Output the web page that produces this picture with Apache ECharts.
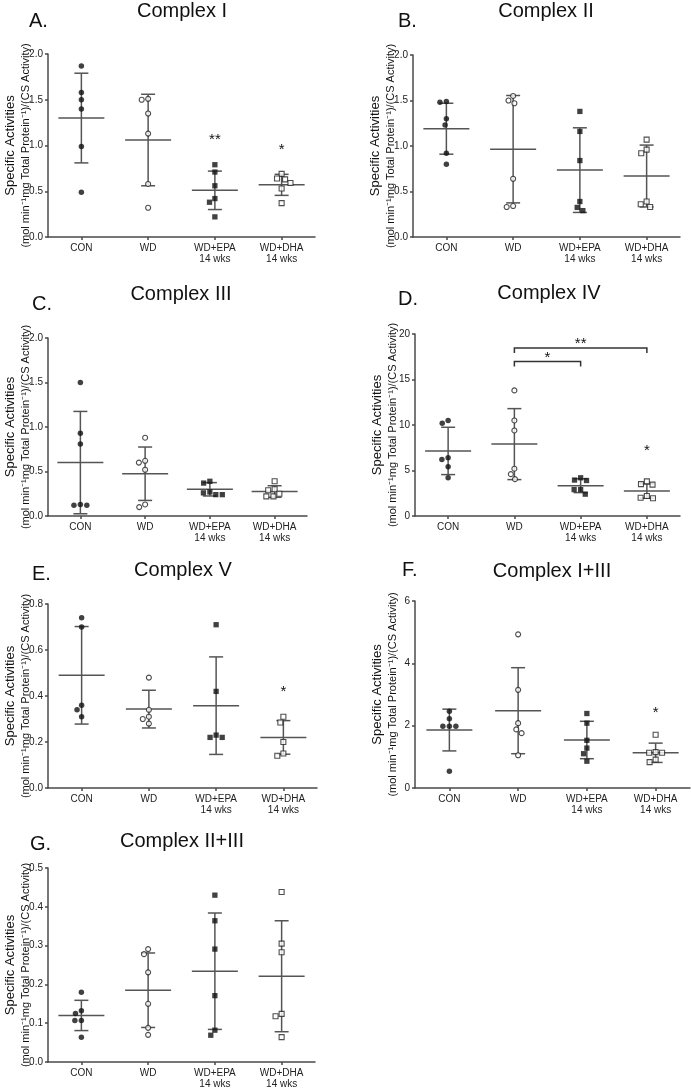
<!DOCTYPE html>
<html><head><meta charset="utf-8">
<script src="https://cdn.jsdelivr.net/npm/echarts@6/dist/echarts.min.js"></script>
<style>html,body{margin:0;padding:0;background:#fff}#c{width:691px;height:1090px}</style>
</head><body><div id="c"></div>
<script>
// ---------- DATA ----------
const categories = ['CON', 'WD', 'WD+EPA\n14 wks', 'WD+DHA\n14 wks'];

// Panel A: Complex I
const A_ticks = ['0.0', '0.5', '1.0', '1.5', '2.0'];
const A_CON = [1.87, 1.58, 1.50, 1.40, 0.99, 0.49];
const A_WD  = [1.51, 1.50, 1.35, 1.13, 0.58, 0.32];
const A_EPA = [0.79, 0.71, 0.56, 0.42, 0.38, 0.22];
const A_DHA = [0.69, 0.64, 0.63, 0.59, 0.53, 0.37];
const A_mean = [1.30, 1.06, 0.51, 0.57];
const A_sd   = [0.49, 0.50, 0.21, 0.115];
const A_sig  = [[2, 1.09, '**'], [3, 0.98, '*']];

// Panel B: Complex II
const B_ticks = ['0.0', '0.5', '1.0', '1.5', '2.0'];
const B_CON = [1.49, 1.48, 1.30, 1.23, 0.92, 0.80];
const B_WD  = [1.55, 1.50, 1.47, 0.64, 0.34, 0.33];
const B_EPA = [1.38, 1.16, 0.84, 0.39, 0.325, 0.29];
const B_DHA = [1.07, 0.96, 0.92, 0.39, 0.36, 0.33];
const B_mean = [1.19, 0.965, 0.735, 0.67];
const B_sd   = [0.28, 0.59, 0.465, 0.34];

// Panel C: Complex III
const C_ticks = ['0.0', '0.5', '1.0', '1.5', '2.0'];
const C_CON = [1.50, 0.93, 0.81, 0.13, 0.12, 0.12];
const C_WD  = [0.88, 0.62, 0.60, 0.52, 0.13, 0.10];
const C_EPA = [0.39, 0.37, 0.27, 0.26, 0.24, 0.24];
const C_DHA = [0.39, 0.30, 0.29, 0.25, 0.22, 0.22];
const C_mean = [0.60, 0.475, 0.30, 0.275];
const C_sd   = [0.575, 0.30, 0.075, 0.065];

// Panel D: Complex IV
const D_ticks = ['0', '5', '10', '15', '20'];
const D_CON = [10.5, 10.2, 6.4, 6.2, 5.4, 4.2];
const D_WD  = [13.8, 10.5, 9.4, 5.2, 4.6, 4.05];
const D_EPA = [4.2, 3.95, 3.9, 2.9, 2.9, 2.4];
const D_DHA = [3.8, 3.5, 3.45, 2.2, 2.0, 1.95];
const D_mean = [7.15, 7.9, 3.33, 2.75];
const D_sd   = [2.6, 3.9, 0.76, 0.79];
const D_sig  = [[3, 7.5, '*']];
const D_brackets = [[1, 2, 16.98, '*'], [1, 3, 18.45, '**']];

// Panel E: Complex V
const E_ticks = ['0.0', '0.2', '0.4', '0.6', '0.8'];
const E_CON = [0.74, 0.70, 0.36, 0.34, 0.31];
const E_WD  = [0.48, 0.34, 0.31, 0.30, 0.28];
const E_EPA = [0.71, 0.42, 0.23, 0.22, 0.22];
const E_DHA = [0.31, 0.285, 0.20, 0.15, 0.14];
const E_mean = [0.49, 0.343, 0.358, 0.22];
const E_sd   = [0.212, 0.082, 0.212, 0.073];
const E_sig  = [[3, 0.433, '*']];

// Panel F: Complex I+III
const F_ticks = ['0', '2', '4', '6'];
const F_CON = [2.46, 2.22, 1.98, 1.98, 1.98, 0.54];
const F_WD  = [4.93, 3.15, 2.08, 1.88, 1.76, 1.05];
const F_EPA = [2.39, 2.08, 1.53, 1.28, 1.10, 0.86];
const F_DHA = [1.71, 1.15, 1.13, 1.13, 0.91, 0.83];
const F_mean = [1.86, 2.48, 1.54, 1.13];
const F_sd   = [0.67, 1.38, 0.60, 0.31];
const F_sig  = [[3, 2.52, '*']];

// Panel G: Complex II+III
const G_ticks = ['0.0', '0.1', '0.2', '0.3', '0.4', '0.5'];
const G_CON = [0.18, 0.132, 0.125, 0.107, 0.107, 0.064];
const G_WD  = [0.291, 0.278, 0.231, 0.15, 0.088, 0.07];
const G_EPA = [0.43, 0.364, 0.291, 0.171, 0.082, 0.069];
const G_DHA = [0.438, 0.305, 0.283, 0.124, 0.118, 0.064];
const G_mean = [0.12, 0.185, 0.234, 0.221];
const G_sd   = [0.039, 0.096, 0.15, 0.143];

const yNameLine1 = 'Specific Activities';
const yNameLine2 = '(mol min\u207B\u00B9mg Total Protein\u207B\u00B9)/(CS Activity)';

// ---------- LAYOUT / STYLE ----------
const FONT = '"Liberation Sans", Arial, Helvetica, sans-serif';
const AXIS_COLOR = '#4a4a4a';
const BAR_COLOR = '#555';
const DOT = '#111';

const panels = [
  {letter:'A.', title:'Complex I', groups:[A_CON,A_WD,A_EPA,A_DHA], mean:A_mean, sd:A_sd, ticks:A_ticks, sig:A_sig, brackets:[],
   box:{left:48, top:54, width:267, height:183}, tPos:[182, 10], lPos:[29, 20]},
  {letter:'B.', title:'Complex II', groups:[B_CON,B_WD,B_EPA,B_DHA], mean:B_mean, sd:B_sd, ticks:B_ticks, sig:[], brackets:[],
   box:{left:413, top:55, width:267, height:182}, tPos:[546, 10], lPos:[398, 20]},
  {letter:'C.', title:'Complex III', groups:[C_CON,C_WD,C_EPA,C_DHA], mean:C_mean, sd:C_sd, ticks:C_ticks, sig:[], brackets:[],
   box:{left:48, top:338, width:259, height:178}, tPos:[181, 293], lPos:[32, 303]},
  {letter:'D.', title:'Complex IV', groups:[D_CON,D_WD,D_EPA,D_DHA], mean:D_mean, sd:D_sd, ticks:D_ticks, sig:D_sig, brackets:D_brackets,
   box:{left:415, top:334, width:265, height:182}, tPos:[549, 292], lPos:[398, 298]},
  {letter:'E.', title:'Complex V', groups:[E_CON,E_WD,E_EPA,E_DHA], mean:E_mean, sd:E_sd, ticks:E_ticks, sig:E_sig, brackets:[],
   box:{left:48, top:604, width:269, height:184}, tPos:[183, 569], lPos:[32, 573]},
  {letter:'F.', title:'Complex I+III', groups:[F_CON,F_WD,F_EPA,F_DHA], mean:F_mean, sd:F_sd, ticks:F_ticks, sig:F_sig, brackets:[],
   box:{left:415, top:601, width:275, height:187}, tPos:[552, 570], lPos:[402, 569]},
  {letter:'G.', title:'Complex II+III', groups:[G_CON,G_WD,G_EPA,G_DHA], mean:G_mean, sd:G_sd, ticks:G_ticks, sig:[], brackets:[],
   box:{left:48, top:868, width:267, height:194}, tPos:[182, 840], lPos:[30, 843]}
];

const groupStyles = [
  {symbol:'circle', size:5.5, itemStyle:{color:DOT}},
  {symbol:'circle', size:5, itemStyle:{color:'#fff', borderColor:'#222', borderWidth:1.1}},
  {symbol:'rect', size:5.3, itemStyle:{color:DOT}},
  {symbol:'rect', size:5, itemStyle:{color:'#fff', borderColor:'#222', borderWidth:1.1}}
];

// beeswarm-style horizontal dodge so overlapping points sit side by side
function dodge(values, pxPerUnit, d) {
  const order = values.map((v, i) => i).sort((a, b) => values[b] - values[a]);
  const placed = [];
  const out = new Array(values.length).fill(0);
  for (const i of order) {
    const y = values[i] * pxPerUnit;
    const cands = [0];
    for (const p of placed) {
      const dy = Math.abs(p.y - y);
      if (dy < d) { const dx = Math.sqrt(d * d - dy * dy); cands.push(p.x - dx, p.x + dx); }
    }
    cands.sort((a, b) => (Math.abs(a) - Math.abs(b)) || (a - b));
    let x = 0;
    for (const c of cands) {
      if (placed.every(p => (p.x - c) ** 2 + (p.y - y) ** 2 >= d * d - 1e-6)) { x = c; break; }
    }
    placed.push({x, y});
    out[i] = x;
  }
  return out;
}

function textStyle(text, x, y, font, align, valign) {
  return {text, x, y, font, fill:'#111', textFill:'#111',
          textAlign:align, textVerticalAlign:valign, align:align, verticalAlign:valign};
}

const grids = [], xAxes = [], yAxes = [], series = [], graphics = [];

panels.forEach((p, i) => {
  const yMax = parseFloat(p.ticks[p.ticks.length - 1]);
  const yInt = parseFloat(p.ticks[1]);
  grids.push({left:p.box.left, top:p.box.top, width:p.box.width, height:p.box.height, containLabel:false});
  xAxes.push({
    type:'category', gridIndex:i, data:categories, boundaryGap:true,
    axisLine:{show:true, lineStyle:{color:AXIS_COLOR, width:1.5}},
    axisTick:{show:true, alignWithLabel:true, length:3, lineStyle:{color:AXIS_COLOR, width:1.5}},
    axisLabel:{show:true, interval:0, fontSize:10, lineHeight:11, color:'#222', fontFamily:FONT, margin:6},
    splitLine:{show:false}
  });
  yAxes.push({
    type:'value', gridIndex:i, min:0, max:yMax, interval:yInt,
    axisLine:{show:true, lineStyle:{color:AXIS_COLOR, width:1.5}},
    axisTick:{show:true, length:3, lineStyle:{color:AXIS_COLOR, width:1.5}},
    axisLabel:{show:true, fontSize:10, color:'#222', fontFamily:FONT, margin:5,
      formatter: v => { const t = p.ticks.find(s => Math.abs(parseFloat(s) - v) < 1e-9); return t === undefined ? '' : t; }},
    splitLine:{show:false},
    name:'{a|' + yNameLine1 + '}\n{b|' + yNameLine2 + '}',
    nameLocation:'middle', nameRotate:90, nameGap:15, nameMoveOverlap:false,
    nameTextStyle:{fontFamily:FONT, color:'#111', rich:{
      a:{fontSize:13, lineHeight:17, fontFamily:FONT, color:'#111'},
      b:{fontSize:11, lineHeight:14, fontFamily:FONT, color:'#111'}}}
  });

  // mean +/- SD bars
  series.push({
    type:'custom', xAxisIndex:i, yAxisIndex:i, silent:true, z:2, clip:false,
    data:p.mean.map((m, k) => [k, m, p.sd[k]]),
    renderItem:(params, api) => {
      const k = api.value(0), m = api.value(1), s = api.value(2);
      const c = api.coord([k, m]), t = api.coord([k, m + s]), b = api.coord([k, m - s]);
      const st = {stroke:BAR_COLOR, lineWidth:1.5, fill:null};
      const hm = 23, hc = 7;
      return {type:'group', children:[
        {type:'line', shape:{x1:c[0]-hm, y1:c[1], x2:c[0]+hm, y2:c[1]}, style:st},
        {type:'line', shape:{x1:c[0], y1:t[1], x2:c[0], y2:b[1]}, style:st},
        {type:'line', shape:{x1:c[0]-hc, y1:t[1], x2:c[0]+hc, y2:t[1]}, style:st},
        {type:'line', shape:{x1:c[0]-hc, y1:b[1], x2:c[0]+hc, y2:b[1]}, style:st}
      ]};
    }
  });

  // data points
  const pxPerUnit = p.box.height / yMax;
  p.groups.forEach((vals, g) => {
    const offs = dodge(vals, pxPerUnit, 6.5);
    const gs = groupStyles[g];
    series.push({
      type:'scatter', xAxisIndex:i, yAxisIndex:i, z:5, silent:true,
      symbol:gs.symbol, symbolSize:gs.size, itemStyle:gs.itemStyle,
      data:vals.map((v, j) => ({value:[g, v], symbolOffset:[offs[j], 0]}))
    });
  });

  // significance stars above groups
  if (p.sig.length) {
    series.push({
      type:'custom', xAxisIndex:i, yAxisIndex:i, silent:true, z:6, clip:false,
      data:p.sig.map(s => [s[0], s[1], s[2]]),
      renderItem:(params, api) => {
        const c = api.coord([api.value(0), api.value(1)]);
        const txt = p.sig[params.dataIndex][2];
        return {type:'text', style:textStyle(txt, c[0], c[1] + 3, '15px ' + FONT, 'center', 'middle')};
      }
    });
  }

  // comparison brackets
  if (p.brackets.length) {
    series.push({
      type:'custom', xAxisIndex:i, yAxisIndex:i, silent:true, z:6, clip:false,
      data:p.brackets.map(b => [b[0], b[1], b[2]]),
      renderItem:(params, api) => {
        const a = api.coord([api.value(0), api.value(2)]);
        const e = api.coord([api.value(1), api.value(2)]);
        const txt = p.brackets[params.dataIndex][3];
        const st = {stroke:'#333', lineWidth:1.5, fill:null};
        return {type:'group', children:[
          {type:'polyline', shape:{points:[[a[0], a[1]+5], [a[0], a[1]], [e[0], e[1]], [e[0], e[1]+5]]}, style:st},
          {type:'text', style:textStyle(txt, (a[0]+e[0])/2, a[1] - 7 + 3, '15px ' + FONT, 'center', 'middle')}
        ]};
      }
    });
  }

  graphics.push({type:'text', x:0, y:0, silent:true, style:textStyle(p.title, p.tPos[0], p.tPos[1] + 1, '20px ' + FONT, 'center', 'middle')});
  graphics.push({type:'text', x:0, y:0, silent:true, style:textStyle(p.letter, p.lPos[0], p.lPos[1] + 1, '20px ' + FONT, 'left', 'middle')});
});

const chart = echarts.init(document.getElementById('c'), null, {renderer:'canvas', width:691, height:1090});
chart.setOption({
  backgroundColor:'#fff',
  animation:false,
  textStyle:{fontFamily:FONT},
  grid:grids, xAxis:xAxes, yAxis:yAxes, series:series,
  graphic:{elements:graphics}
});
</script></body></html>
